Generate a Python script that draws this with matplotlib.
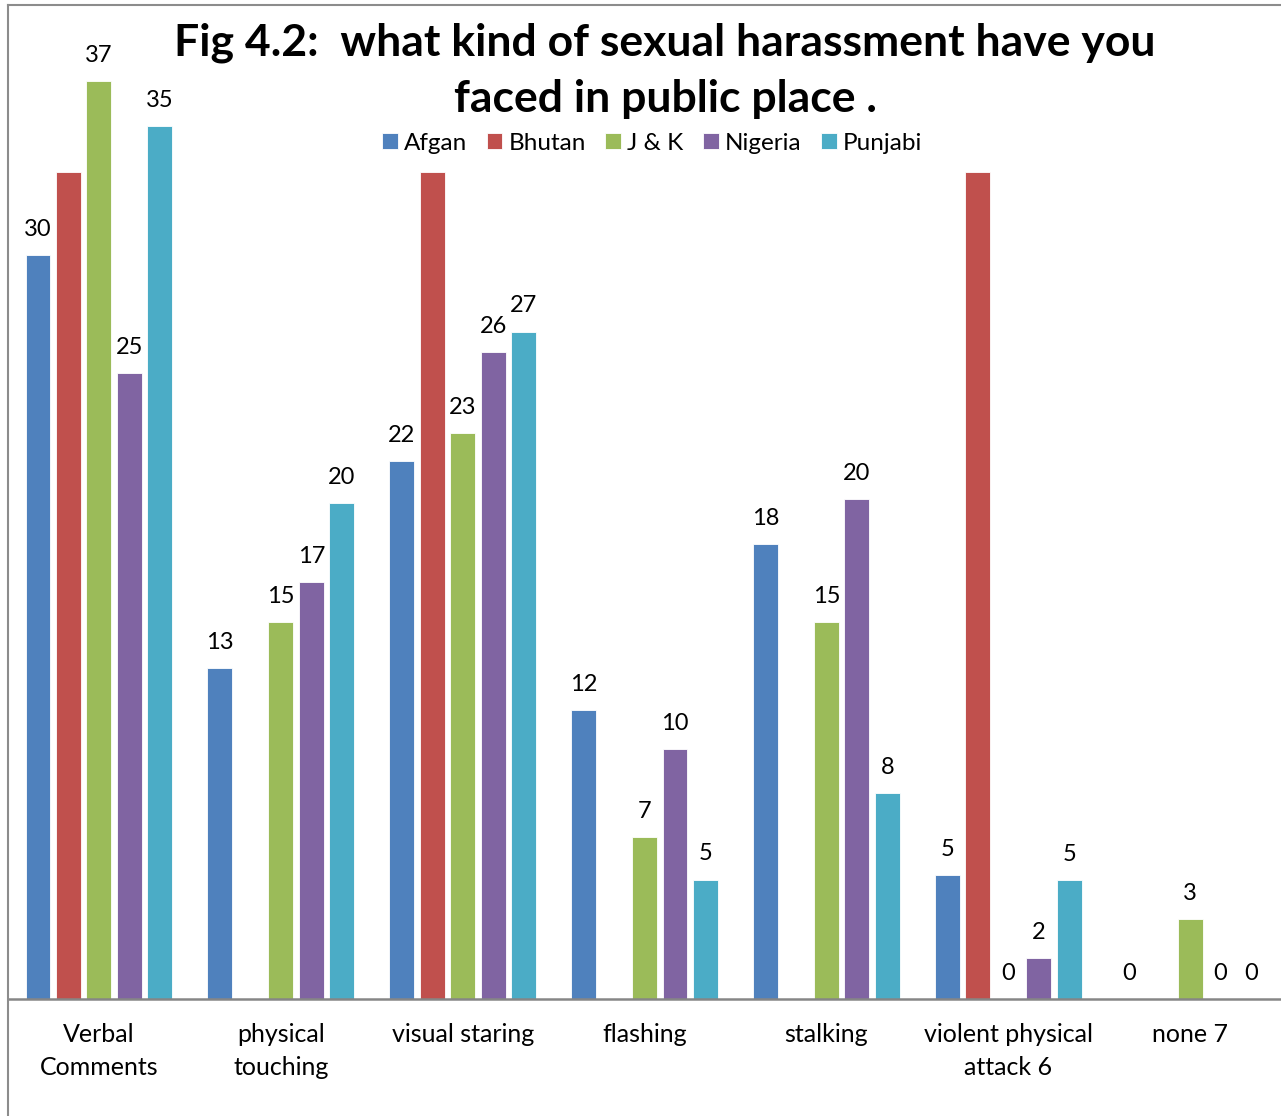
import matplotlib
matplotlib.use("Agg")
import matplotlib.pyplot as plt
from matplotlib.lines import Line2D
import numpy as np

plt.rcParams['font.family'] = ['Lato', 'DejaVu Sans']

categories = ["Verbal\nComments", "physical\ntouching", "visual staring", "flashing",
              "stalking", "violent physical\nattack 6", "none 7"]
series_names = ["Afgan", "Bhutan", "J & K", "Nigeria", "Punjabi"]
colors = ["#4F81BD", "#C0504D", "#9BBB59", "#8064A2", "#4BACC6"]

nan = np.nan
afgan = [30.0, 13.33, 21.68, 11.65, 18.33, 5.0, 0]
bhutan = [33.35, nan, 33.35, nan, nan, 33.35, nan]   # no labels shown for these
jk = [37.0, 15.21, 22.83, 6.52, 15.21, 0, 3.23]
nigeria = [25.23, 16.81, 26.08, 10.08, 20.17, 1.65, 0]
punjabi = [35.2, 20.0, 26.91, 4.81, 8.29, 4.8, 0]
values = [afgan, bhutan, jk, nigeria, punjabi]
show_labels = [True, False, True, True, True]

W, H = 1281, 1116
fig = plt.figure(figsize=(W / 100, H / 100), dpi=100)
ax = fig.add_axes([8 / W, 1 - 999 / H, 1 - 8 / W, 992 / H])

x = np.arange(len(categories))
pitch = 0.1676
width = 0.137
for i, (name, vals, c) in enumerate(zip(series_names, values, colors)):
    pos = x + (i - 2) * pitch
    ax.bar(pos, vals, width, color=c, label=name, edgecolor='white', linewidth=0.6)
    if show_labels[i]:
        for xp, v in zip(pos, vals):
            if not np.isnan(v):
                ax.annotate("%.0f" % v, (xp, v), xytext=(0, 11), textcoords='offset points',
                            ha='center', va='bottom', fontsize=17)

ax.set_xlim(-0.5, 6.5)
ax.set_ylim(0, 40)
ax.set_yticks([])
ax.set_xticks(x)
ax.set_xticklabels(categories, fontsize=18, linespacing=1.55)
ax.tick_params(axis='x', length=0, pad=17)
for s in ['top', 'right', 'left']:
    ax.spines[s].set_visible(False)
ax.spines['bottom'].set_color('#868686')
ax.spines['bottom'].set_linewidth(1.8)

# chart border
fig.add_artist(Line2D([8 / W, 8 / W], [0, 1 - 5 / H], color='#8c8c8c', lw=1.5))
fig.add_artist(Line2D([8 / W, 1], [1 - 5 / H, 1 - 5 / H], color='#8c8c8c', lw=1.5))

fig.text(665 / W, 1 - 71 / H, "Fig 4.2:  what kind of sexual harassment have you\nfaced in public place .",
         ha='center', va='center', fontsize=32, fontweight='bold', linespacing=1.47)

ax.legend(loc='center', bbox_to_anchor=(652 / W, 1 - 143 / H), bbox_transform=fig.transFigure,
          ncol=5, frameon=False, fontsize=17.5, handlelength=0.65, handleheight=0.65,
          handletextpad=0.25, columnspacing=0.8, borderaxespad=0)

fig.savefig("out.png", dpi=100)
